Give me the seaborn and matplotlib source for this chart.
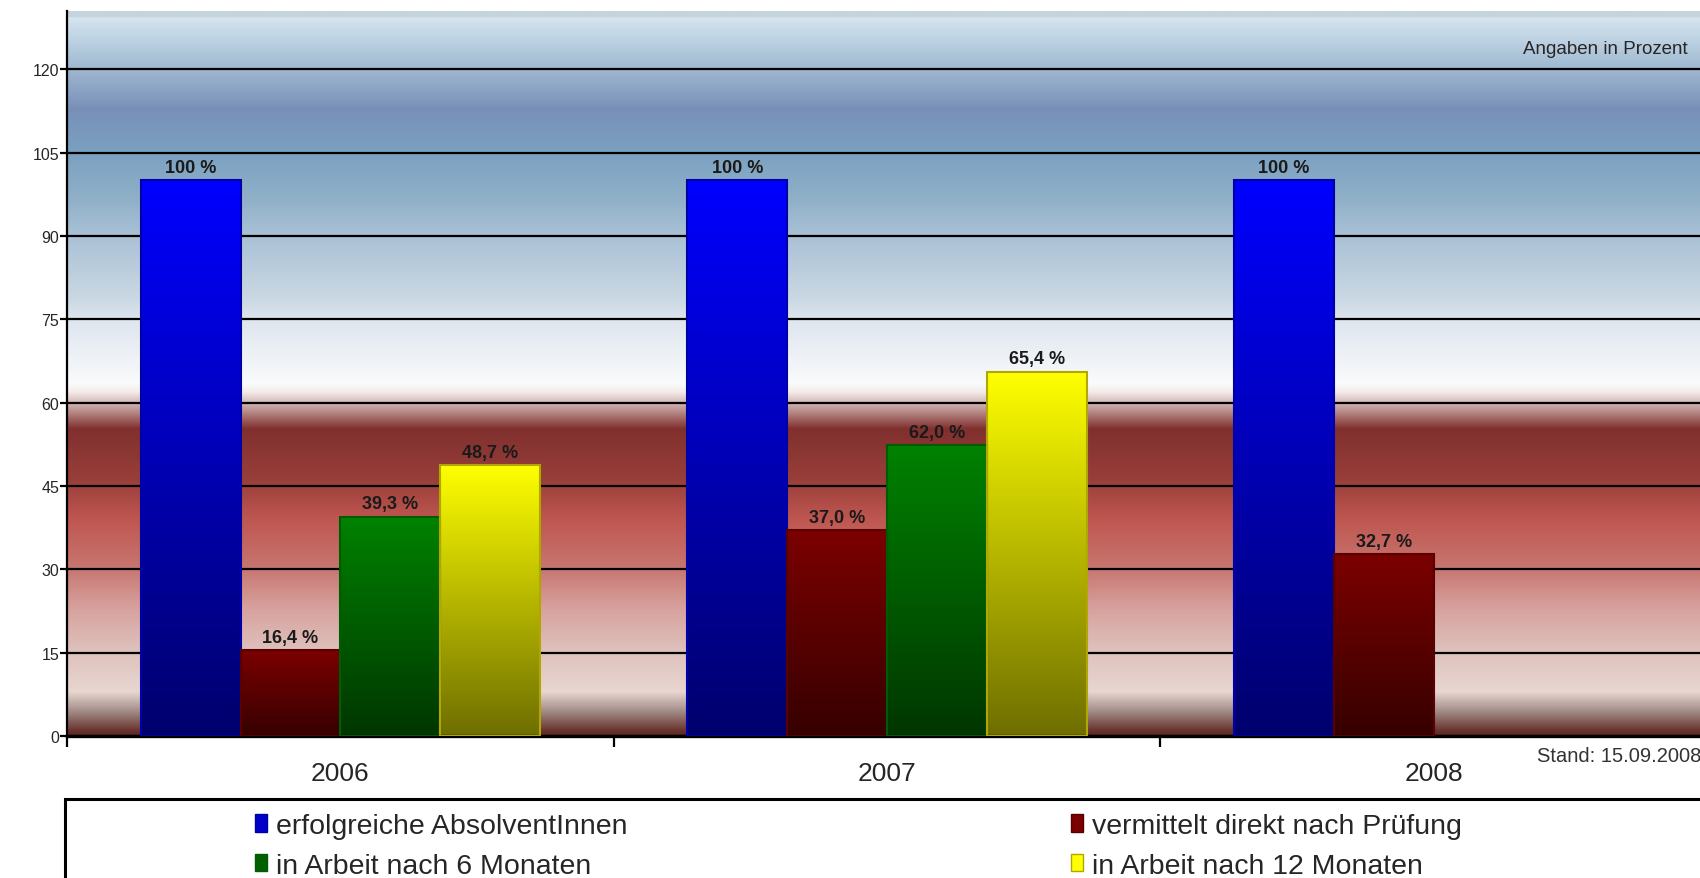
import numpy as np
import pandas as pd
import matplotlib
matplotlib.use("Agg")
import matplotlib.pyplot as plt
import seaborn as sns
from matplotlib.colors import LinearSegmentedColormap
from matplotlib.patches import Patch, Rectangle

sns.set_style("white")
plt.rcParams['font.family'] = ['Liberation Sans', 'DejaVu Sans']

# Daten (Balkenhoehen, Beschriftungen wie im Original)
jahre = ["2006", "2007", "2008"]
gruppen = ["erfolgreiche AbsolventInnen", "vermittelt direkt nach Prüfung",
           "in Arbeit nach 6 Monaten", "in Arbeit nach 12 Monaten"]
absolventen = [100, 100, 100]
vermittelt = [15.5, 37.0, 32.8]
arbeit_6 = [39.5, 52.4]          # 2008 keine Werte
arbeit_12 = [48.8, 65.6]
txt_absolventen = ["100 %", "100 %", "100 %"]
txt_vermittelt = ["16,4 %", "37,0 %", "32,7 %"]
txt_6 = ["39,3 %", "62,0 %"]
txt_12 = ["48,7 %", "65,4 %"]
y_ticks = [0, 15, 30, 45, 60, 75, 90, 105, 120]

rows = []
for serie, werte in zip(gruppen, [absolventen, vermittelt, arbeit_6, arbeit_12]):
    for jahr, w in zip(jahre, werte):
        rows.append({"Jahr": jahr, "Gruppe": serie, "Wert": w})
df = pd.DataFrame(rows)
texte = [txt_absolventen, txt_vermittelt, txt_6, txt_12]

# Farbverlaeufe der Balken: (oben, unten, Rand)
farben = {
    gruppen[0]: ("#0000ff", "#00006c", "#0000a8"),
    gruppen[1]: ("#7c0000", "#360000", "#5a0000"),
    gruppen[2]: ("#008200", "#003600", "#005c00"),
    gruppen[3]: ("#ffff00", "#6e6e00", "#b0a800"),
}

W, H = 1700, 879
fig = plt.figure(figsize=(17, 8.79), dpi=100)
ax = fig.add_axes([67 / W, 1 - 737 / H, (1707 - 67) / W, (737 - 12) / H])

YMAX = 130.5
sns.barplot(data=df, x="Jahr", y="Wert", hue="Gruppe", order=jahre, hue_order=gruppen,
            width=0.73, ax=ax, legend=False, errorbar=None, saturation=1)

# Hintergrund-Verlauf
stops = [
    (0, "#5a2722"), (1.0, "#6b3530"), (4.3, "#a08a85"), (7.9, "#e8d6d1"),
    (14.8, "#dfc3be"), (22.9, "#d7a29e"), (30.1, "#c87670"), (39.1, "#bf5650"),
    (46.3, "#983e3a"), (55.3, "#80302e"), (58.9, "#c09a98"), (61.9, "#f3ebe9"),
    (63.4, "#fafbfc"), (75.1, "#dde5ee"), (78.7, "#cad8e3"), (90.4, "#a8c0d5"),
    (96.7, "#90b0c8"), (105.3, "#7aa0c0"), (112.9, "#7890b8"), (121.9, "#a9c1d6"),
    (129.4, "#d5e5f0"), (129.5, "#c5d3dd"), (YMAX, "#c5d3dd"),
]
bg_cmap = LinearSegmentedColormap.from_list("bg", [(v / YMAX, c) for v, c in stops], N=1024)
ax.imshow(np.linspace(0, 1, 1024).reshape(-1, 1), cmap=bg_cmap, origin="lower",
          extent=[-0.5, 2.5, 0, YMAX], aspect="auto", zorder=0)

# Balken mit Verlauf fuellen
grad = np.linspace(0, 1, 256).reshape(-1, 1)
for cont, gruppe, labels in zip(ax.containers, gruppen, texte):
    top, bottom, edge = farben[gruppe]
    cmap = LinearSegmentedColormap.from_list(gruppe, [bottom, top])
    for bar in cont:
        x0, y0 = bar.get_xy()
        w, h = bar.get_width(), bar.get_height()
        im = ax.imshow(grad, cmap=cmap, origin="lower", extent=[x0, x0 + w, y0, y0 + h],
                       aspect="auto", zorder=2)
        im.set_clip_path(bar)
        bar.set_facecolor("none")
        bar.set_edgecolor(edge)
        bar.set_linewidth(1.5)
        bar.set_zorder(3)
    ax.bar_label(cont, labels=labels, padding=3, fontsize=13, fontweight="bold",
                 color="#1a1a1a")

# Achsen
ax.set_xlim(-0.5, 2.5)
ax.set_ylim(0, YMAX)
ax.set_yticks(y_ticks)
ax.set_yticklabels([str(t) for t in y_ticks], fontsize=11.5)
ax.yaxis.grid(True, color="black", linewidth=1.6)
ax.set_axisbelow(True)
ax.set_xticks([-0.5, 0.5, 1.5, 2.5])
ax.set_xticklabels([])
ax.set_xticks([0, 1, 2], minor=True)
ax.set_xticklabels(jahre, minor=True, fontsize=19)
ax.tick_params(axis="x", which="major", bottom=True, direction="out", length=8,
               width=1.6, color="black")
ax.tick_params(axis="x", which="minor", bottom=True, length=0, pad=18)
ax.tick_params(axis="y", left=True, direction="out", length=5, width=1.6,
               color="black", pad=0.5)
ax.set_xlabel("")
ax.set_ylabel("")
for s in ["top", "right"]:
    ax.spines[s].set_visible(False)
ax.spines["left"].set_linewidth(1.6)
ax.spines["left"].set_color("black")
ax.spines["bottom"].set_linewidth(2.4)
ax.spines["bottom"].set_color("black")

fig.text(1688 / W, 1 - 49 / H, "Angaben in Prozent", ha="right", va="center", fontsize=13.5)
fig.text(1537 / W, 1 - 757 / H, "Stand: 15.09.2008", ha="left", va="center",
         fontsize=14.5, color="#333333")

# Legendenkasten
fig.add_artist(Rectangle((65 / W, -0.05), 1.2, (879 - 800) / H + 0.05,
                         transform=fig.transFigure, fill=False, lw=2.2,
                         edgecolor="black", clip_on=False))
reihenfolge = [gruppen[0], gruppen[2], gruppen[1], gruppen[3]]
handles = [Patch(facecolor=farben[g][0], edgecolor=farben[g][2]) for g in reihenfolge]
handles[0].set_facecolor("#0000c8")
handles[1].set_facecolor("#006000")
fig.legend(handles, reihenfolge, ncol=2, loc="upper left", bbox_to_anchor=(255 / W, 1 - 814 / H),
           frameon=False, fontsize=20.5, handlelength=0.42, handleheight=0.55,
           handletextpad=0.3, columnspacing=15.6, labelspacing=0.48,
           borderpad=0, borderaxespad=0)

fig.savefig("out.png", dpi=100)
